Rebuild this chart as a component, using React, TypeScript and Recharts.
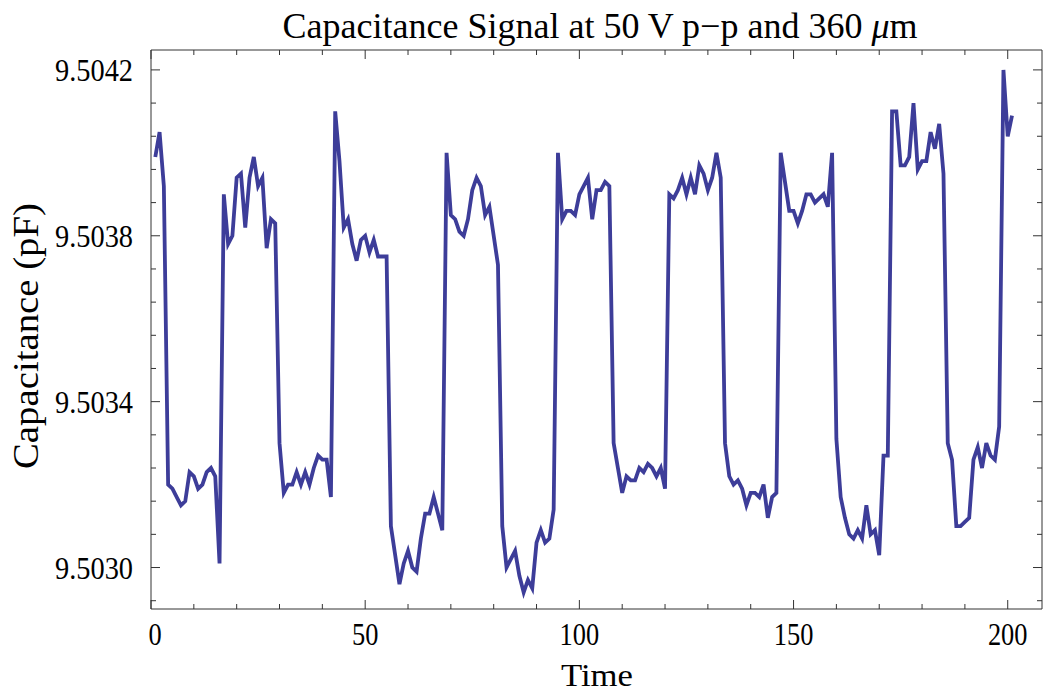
import { LineChart, Line, XAxis, YAxis } from 'recharts';

// capacitance readings (pF), one per time step starting at t = 1
const capacitance = [
  9.50399, 9.50405, 9.50392, 9.5032, 9.50319, 9.50317, 9.50315, 9.50316, 9.50323, 9.50322,
  9.50319, 9.5032, 9.50323, 9.50324, 9.50322, 9.50301, 9.5039, 9.50378, 9.5038, 9.50394,
  9.50395, 9.50382, 9.50394, 9.50399, 9.50392, 9.50394, 9.50377, 9.50384, 9.50383, 9.5033,
  9.50318, 9.5032, 9.5032, 9.50323, 9.5032, 9.50323, 9.5032, 9.50324, 9.50327, 9.50326,
  9.50326, 9.50317, 9.5041, 9.50398, 9.50382, 9.50384, 9.50378, 9.50374, 9.50379, 9.5038,
  9.50376, 9.50379, 9.50375, 9.50375, 9.50375, 9.5031, 9.50303, 9.50296, 9.50301, 9.50304,
  9.503, 9.50299, 9.50307, 9.50313, 9.50313, 9.50317, 9.50313, 9.50309, 9.504, 9.50385,
  9.50384, 9.50381, 9.5038, 9.50384, 9.50391, 9.50394, 9.50392, 9.50385, 9.50387, 9.5038,
  9.50373, 9.5031, 9.503, 9.50302, 9.50304, 9.50298, 9.50294, 9.50297, 9.50295, 9.50306,
  9.50309, 9.50306, 9.50307, 9.50314, 9.504, 9.50384, 9.50386, 9.50386, 9.50385, 9.5039,
  9.50392, 9.50394, 9.50384, 9.50391, 9.50391, 9.50393, 9.50392, 9.5033, 9.50324, 9.50318,
  9.50322, 9.50321, 9.50321, 9.50324, 9.50323, 9.50325, 9.50324, 9.50322, 9.50324, 9.50319,
  9.5039, 9.50389, 9.50391, 9.50394, 9.5039, 9.50394, 9.5039, 9.50397, 9.50395, 9.50391,
  9.50394, 9.504, 9.50394, 9.5033, 9.50322, 9.5032, 9.50321, 9.50319, 9.50315, 9.50318,
  9.50318, 9.50317, 9.5032, 9.50312, 9.50317, 9.50318, 9.504, 9.50393, 9.50386, 9.50386,
  9.50383, 9.50386, 9.5039, 9.5039, 9.50388, 9.50389, 9.5039, 9.50387, 9.504, 9.50331,
  9.50317, 9.50312, 9.50308, 9.50307, 9.50309, 9.50307, 9.50315, 9.50308, 9.50309, 9.50303,
  9.50327, 9.50327, 9.5041, 9.5041, 9.50397, 9.50397, 9.50399, 9.50412, 9.50396, 9.50398,
  9.50398, 9.50405, 9.50401, 9.50407, 9.50395, 9.5033, 9.50326, 9.5031, 9.5031, 9.50311,
  9.50312, 9.50326, 9.50329, 9.50324, 9.5033, 9.50327, 9.50326, 9.50334, 9.5042, 9.50404,
  9.50409,
];

const xTicks = [0, 10, 20, 30, 40, 50, 60, 70, 80, 90, 100, 110, 120, 130, 140, 150, 160, 170, 180, 190, 200];
const xMajor = [0, 50, 100, 150, 200];
const yTicks = [
  9.50292, 9.503, 9.50308, 9.50316, 9.50324, 9.50332, 9.5034, 9.50348, 9.50356,
  9.50364, 9.50372, 9.5038, 9.50388, 9.50396, 9.50404, 9.50412, 9.5042,
];
const yMajor = [9.503, 9.5034, 9.5038, 9.5042];

const chartData = capacitance.map((c, i) => ({ time: i + 1, c }));

const FONT = '"Liberation Serif", "Times New Roman", serif';
const FRAME = '#333';

const BottomTick = (props: any) => {
  const { x, y, payload } = props;
  const major = xMajor.includes(payload.value);
  const label = String(payload.value);
  return (
    <g>
      <line x1={x} y1={y} x2={x} y2={y - (major ? 9 : 5)} stroke={FRAME} strokeWidth={1} />
      {major && (
        <text
          x={x + (payload.value === 0 ? 4 : 0)}
          y={y + 36}
          textAnchor="middle"
          fontFamily={FONT}
          fontSize={31}
          fill="#000"
          textLength={label.length * 13.2}
          lengthAdjust="spacingAndGlyphs"
        >
          {label}
        </text>
      )}
    </g>
  );
};

const TopTick = (props: any) => {
  const { x, y, payload } = props;
  const major = xMajor.includes(payload.value);
  return <line x1={x} y1={y} x2={x} y2={y + (major ? 9 : 5)} stroke={FRAME} strokeWidth={1} />;
};

const LeftTick = (props: any) => {
  const { x, y, payload } = props;
  const major = yMajor.includes(payload.value);
  return (
    <g>
      <line x1={x} y1={y} x2={x + (major ? 9 : 5)} y2={y} stroke={FRAME} strokeWidth={1} />
      {major && (
        <text
          x={x - 18}
          y={y + 11}
          textAnchor="end"
          fontFamily={FONT}
          fontSize={31}
          fill="#000"
          textLength={78}
          lengthAdjust="spacingAndGlyphs"
        >
          {payload.value.toFixed(4)}
        </text>
      )}
    </g>
  );
};

const RightTick = (props: any) => {
  const { x, y, payload } = props;
  const major = yMajor.includes(payload.value);
  return <line x1={x} y1={y} x2={x - (major ? 9 : 5)} y2={y} stroke={FRAME} strokeWidth={1} />;
};

export default function App() {
  return (
    <div style={{ position: 'absolute', left: 0, top: 0, width: 1043, height: 696, background: '#fff' }}>
      <LineChart width={1043} height={696} data={chartData} margin={{ top: 49, right: 0, bottom: 0, left: 0 }}>
        <XAxis
          dataKey="time"
          type="number"
          domain={[0, 208]}
          allowDataOverflow
          ticks={xTicks}
          interval={0}
          height={87}
          tickSize={0}
          tickMargin={0}
          tickLine={false}
          axisLine={{ stroke: FRAME }}
          tick={<BottomTick />}
        />
        <XAxis
          xAxisId="top"
          orientation="top"
          dataKey="time"
          type="number"
          domain={[0, 208]}
          allowDataOverflow
          ticks={xTicks}
          interval={0}
          height={1}
          tickSize={0}
          tickMargin={0}
          tickLine={false}
          axisLine={{ stroke: FRAME }}
          tick={<TopTick />}
        />
        <YAxis
          type="number"
          domain={[9.5029, 9.504248]}
          allowDataOverflow
          ticks={yTicks}
          interval={0}
          width={151}
          tickSize={0}
          tickMargin={0}
          tickLine={false}
          axisLine={{ stroke: FRAME }}
          tick={<LeftTick />}
        />
        <YAxis
          yAxisId="right"
          orientation="right"
          type="number"
          domain={[9.5029, 9.504248]}
          allowDataOverflow
          ticks={yTicks}
          interval={0}
          width={1}
          tickSize={0}
          tickMargin={0}
          tickLine={false}
          axisLine={{ stroke: FRAME }}
          tick={<RightTick />}
        />
        <Line
          type="linear"
          dataKey="c"
          stroke="#3d3d99"
          strokeWidth={3.8}
          dot={false}
          isAnimationActive={false}
        />
      </LineChart>
      <svg
        width={1043}
        height={696}
        style={{ position: 'absolute', left: 0, top: 0, pointerEvents: 'none' }}
      >
        <text
          x={600}
          y={38}
          textAnchor="middle"
          fontFamily={FONT}
          fontSize={36}
          fill="#000"
          textLength={635}
          lengthAdjust="spacingAndGlyphs"
        >
          Capacitance Signal at 50 V p−p and 360 <tspan fontStyle="italic">μ</tspan>m
        </text>
        <text
          x={597}
          y={686}
          textAnchor="middle"
          fontFamily={FONT}
          fontSize={32}
          fill="#000"
          textLength={72}
          lengthAdjust="spacingAndGlyphs"
        >
          Time
        </text>
        <text
          x={38}
          y={336}
          transform="rotate(-90, 38, 336)"
          textAnchor="middle"
          fontFamily={FONT}
          fontSize={36}
          fill="#000"
          textLength={266}
          lengthAdjust="spacingAndGlyphs"
        >
          Capacitance (pF)
        </text>
      </svg>
    </div>
  );
}
